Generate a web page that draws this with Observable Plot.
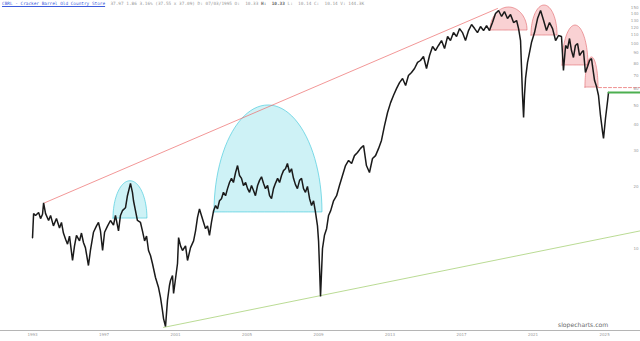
<!DOCTYPE html>
<html>
<head>
<meta charset="utf-8">
<script src="https://cdn.jsdelivr.net/npm/d3@7"></script>
<script src="https://cdn.jsdelivr.net/npm/@observablehq/plot@0.6"></script>
<style>
  html, body { margin: 0; padding: 0; background: #fff; }
  #wrap { position: relative; width: 640px; height: 341px; overflow: hidden; }
  #title { position: absolute; left: 2px; top: 1px; font-family: "DejaVu Sans Mono", monospace; font-size: 4.4px; line-height: 5px; white-space: pre; color: #999; }
  #title .sym { color: #3b5bdb; text-decoration: underline; }
  #title b { color: #666; }
  #wm { position: absolute; left: 558px; top: 321px; font-family: "DejaVu Sans", sans-serif; font-size: 6.1px; color: #6a6a6a; }
</style>
</head>
<body>
<div id="wrap">
  <div id="chart"></div>
  <div id="title"><span class="sym">CBRL - Cracker Barrel Old Country Store</span>  37.97 1.86 3.16% (37.55 x 37.09) D: 07/03/1995 O:  10.33 <b>H:  10.33</b> L:  10.14 C:  10.14 V: 144.3K</div>
  <div id="wm">slopecharts.com</div>
</div>
<script>
// ---- price series (decimal year, adjusted close) ----
const priceYears = [
1993.00,1993.06,1993.17,1993.34,1993.45,1993.56,1993.62,1993.73,1993.90,1994.01,1994.17,1994.34,1994.51,1994.62,1994.73,1994.85,1994.96,1995.07,1995.24,1995.35,1995.46,1995.63,1995.74,1995.85,1995.96,1996.13,1996.24,1996.41,1996.58,1996.69,1996.80,1996.92,1997.03,1997.20,1997.36,1997.53,1997.64,1997.81,1997.92,1998.03,1998.20,1998.31,1998.48,1998.59,1998.65,1998.76,1998.87,1999.04,1999.15,1999.27,1999.38,1999.49,1999.60,1999.71,1999.88,2000.05,2000.16,2000.27,2000.33,2000.44,2000.55,2000.66,2000.72,2000.83,2000.89,2001.00,2001.11,2001.17,2001.28,2001.39,2001.56,2001.67,2001.84,2002.01,2002.12,2002.23,2002.34,
2002.45,2002.57,2002.68,2002.79,2002.90,2003.01,2003.13,2003.24,2003.35,2003.46,2003.57,2003.68,2003.80,2003.91,2004.02,2004.13,2004.24,2004.36,2004.47,2004.58,2004.69,2004.80,2004.92,2005.03,2005.14,2005.25,2005.36,2005.47,2005.59,2005.70,2005.81,2005.92,2006.03,2006.15,2006.26,2006.37,2006.48,2006.59,2006.71,2006.82,2006.93,2007.04,2007.15,2007.26,2007.38,2007.49,2007.60,2007.71,2007.82,2007.94,2008.05,2008.16,2008.27,2008.38,2008.50,2008.61,2008.72,2008.83,2008.94,2009.00,2009.05,2009.11,2009.17,2009.22,2009.33,2009.45,2009.56,2009.68,
2009.84,2010.01,2010.17,2010.34,2010.51,2010.68,2010.85,2011.01,2011.18,2011.35,2011.52,2011.68,2011.85,2012.02,2012.19,2012.36,2012.52,2012.69,2012.86,2013.03,2013.19,2013.36,2013.53,2013.70,2013.87,2014.03,2014.20,2014.37,2014.54,2014.70,2014.87,2015.04,2015.21,2015.38,2015.54,2015.71,2015.88,2016.05,2016.22,2016.38,2016.55,2016.72,2016.89,2017.05,2017.22,2017.39,2017.56,2017.73,2017.89,2018.06,2018.23,2018.40,2018.56,2018.73,2018.90,2019.07,2019.24,2019.40,2019.57,2019.74,2019.91,2020.08,2020.19,2020.30,2020.35,2020.41,2020.47,2020.52,2020.58,2020.69,2020.80,2020.91,2021.08,2021.25,2021.42,2021.59,2021.75,2021.92,2022.09,2022.26,2022.42,2022.59,2022.70,2022.82,2022.93,2023.04,2023.15,2023.26,2023.37,2023.49,2023.60,2023.71,2023.82,2023.93,2024.05,2024.16,2024.27,2024.32,2024.44,2024.55,2024.66,2024.77,2024.89,2024.94,2025.05,2025.17,2025.22
];
const priceValues = [
11.3,14.8,14.5,15.0,14.0,14.7,16.7,14.8,13.7,14.5,12.9,14.0,12.6,13.4,11.9,11.1,10.5,11.5,8.74,10.3,11.6,10.9,11.9,10.7,10.1,8.26,9.78,12.0,12.9,13.4,12.2,9.78,12.0,12.9,13.7,13.0,14.5,12.2,14.5,15.3,15.8,18.1,20.8,18.8,17.1,15.3,13.7,13.4,12.2,10.9,11.5,9.78,9.24,8.45,7.22,6.45,5.77,4.98,4.55,4.16,5.58,6.60,6.98,7.38,6.03,7.14,8.45,11.3,10.3,9.78,10.3,8.74,10.1,10.9,12.2,14.2,15.6,
14.5,13.4,12.5,12.9,11.6,13.4,15.3,16.2,15.6,17.1,17.5,18.8,18.1,19.6,21.0,22.0,21.0,23.5,25.4,22.7,22.0,20.3,21.0,19.6,18.8,20.3,19.2,18.1,20.3,21.5,22.4,20.8,19.6,20.3,18.1,17.5,19.6,20.8,22.0,21.0,22.7,24.0,24.5,26.0,23.5,24.5,22.0,20.5,19.6,21.5,22.0,19.6,18.8,20.1,17.5,16.2,17.1,15.0,12.9,10.9,8.26,5.84,7.81,10.0,11.6,12.5,14.5,15.3,
17.1,18.1,20.3,22.7,25.4,26.9,26.0,28.4,29.4,30.8,31.8,25.4,23.5,27.5,28.4,30.8,33.7,39.8,46.1,51.5,55.8,60.3,64.5,67.6,62.4,69.9,72.3,75.6,80.9,82.7,86.5,75.6,87.5,96.8,92.5,97.9,103.5,94.6,108.3,103.5,113.2,108.3,118.4,113.2,103.5,115.8,123.9,118.4,113.2,121.1,115.8,122.5,115.8,126.7,140.2,145.0,135.6,143.4,132.5,138.7,126.7,129.6,118.4,103.5,78.2,55.8,43.6,55.8,67.6,80.9,90.4,101.2,113.2,132.5,145.0,129.6,115.8,126.7,118.4,103.5,109.5,108.3,73.9,97.9,94.6,105.9,92.5,85.6,97.9,100.1,87.5,90.4,92.5,72.3,77.3,82.7,84.6,78.2,66.0,61.7,55.8,44.6,36.9,34.5,43.1,52.7,57.7
];

// ---- annotations ----
const humpStart = [1997.53, 2003.18, 2018.62, 2020.91, 2022.65, 2023.93];
const humpEnd   = [1999.43, 2009.22, 2020.69, 2022.37, 2024.10, 2024.66];
const humpBase  = [14.0, 15.0, 115.8, 109.5, 78.2, 61.0];
const humpTop   = [21.3, 49.9, 150.0, 153.4, 122.5, 85.6];
const humpKind  = ["blue", "blue", "pink", "pink", "pink", "pink"];

const redTrendYears = [1993.67, 2019.01];
const redTrendValues = [16.7, 148.3];
const greenTrendYears = [2000.33, 2027.01];
const greenTrendValues = [4.12, 12.2];
const redLevelYears = [2024.66, 2027.01];
const redLevelValue = 61.0;
const greenLevelYears = [2025.22, 2027.01];
const greenLevelValue = 57.7;

// ---- axes ----
const xTickYears = [1993, 1997, 2001, 2005, 2009, 2013, 2017, 2021, 2025];
const yTickValues = [10, 20, 30, 40, 50, 60, 70, 80, 90, 100, 110, 120, 130, 140, 150];
const xDomainYears = [1991.21, 2027.01];
const yDomainValues = [3.98, 162.3];

function toDate(y) {
  const yr = Math.floor(y);
  const s = Date.UTC(yr, 0, 1), e = Date.UTC(yr + 1, 0, 1);
  return new Date(s + (y - yr) * (e - s));
}

const price = priceYears.map((t, i) => ({date: toDate(t), value: priceValues[i]}));

const humps = humpStart.map((s, i) => {
  const n = 48, pts = [];
  const lb = Math.log(humpBase[i]), lt = Math.log(humpTop[i]);
  for (let k = 0; k <= n; k++) {
    const th = Math.PI * k / n;
    const t = s + (humpEnd[i] - s) * (1 - Math.cos(th)) / 2;
    pts.push({date: toDate(t), base: humpBase[i], v: Math.exp(lb + (lt - lb) * Math.sin(th))});
  }
  return {kind: humpKind[i], pts};
});

const styles = {
  blue: {fill: "#1ec3d8", fillOpacity: 0.22, stroke: "#3cc8db"},
  pink: {fill: "#e8474f", fillOpacity: 0.25, stroke: "#e36a70"}
};

const marks = [];
for (const h of humps) {
  const st = styles[h.kind];
  marks.push(Plot.areaY(h.pts, {x: "date", y1: "base", y2: "v", fill: st.fill, fillOpacity: st.fillOpacity, stroke: st.stroke, strokeWidth: 0.7, strokeOpacity: 0.9}));
}
marks.push(
  Plot.ruleY([yDomainValues[0]], {stroke: "#b5b5b5", strokeWidth: 1}),
  Plot.line(redTrendYears.map((t, i) => ({date: toDate(t), v: redTrendValues[i]})), {x: "date", y: "v", stroke: "#ec6a6a", strokeWidth: 0.7}),
  Plot.line(greenTrendYears.map((t, i) => ({date: toDate(t), v: greenTrendValues[i]})), {x: "date", y: "v", stroke: "#9ccc65", strokeWidth: 0.7}),
  Plot.line(price, {x: "date", y: "value", stroke: "#1a1a1a", strokeWidth: 1.5, strokeLinejoin: "miter"}),
  Plot.line(redLevelYears.map(t => ({date: toDate(t), v: redLevelValue})), {x: "date", y: "v", stroke: "#ef8f8f", strokeWidth: 1, strokeDasharray: "3,2"}),
  Plot.line(greenLevelYears.map(t => ({date: toDate(t), v: greenLevelValue})), {x: "date", y: "v", stroke: "#4caf50", strokeWidth: 2}),
  Plot.text(xTickYears, {x: d => toDate(d), text: d => String(d), frameAnchor: "bottom", dy: 5, fontSize: 4, fill: "#9a9a9a", fontFamily: "DejaVu Sans"}),
  Plot.text(yTickValues, {y: d => d, text: d => String(d), frameAnchor: "right", dx: -2, textAnchor: "end", fontSize: 4, fill: "#9a9a9a", fontFamily: "DejaVu Sans"})
);

const chart = Plot.plot({
  width: 640,
  height: 341,
  marginTop: 0,
  marginBottom: 11,
  marginLeft: 0,
  marginRight: 0,
  x: {type: "utc", domain: xDomainYears.map(toDate), axis: null},
  y: {type: "log", domain: yDomainValues, axis: null},
  style: {background: "#fff", overflow: "visible"},
  marks
});
document.getElementById("chart").appendChild(chart);
</script>
</body>
</html>
